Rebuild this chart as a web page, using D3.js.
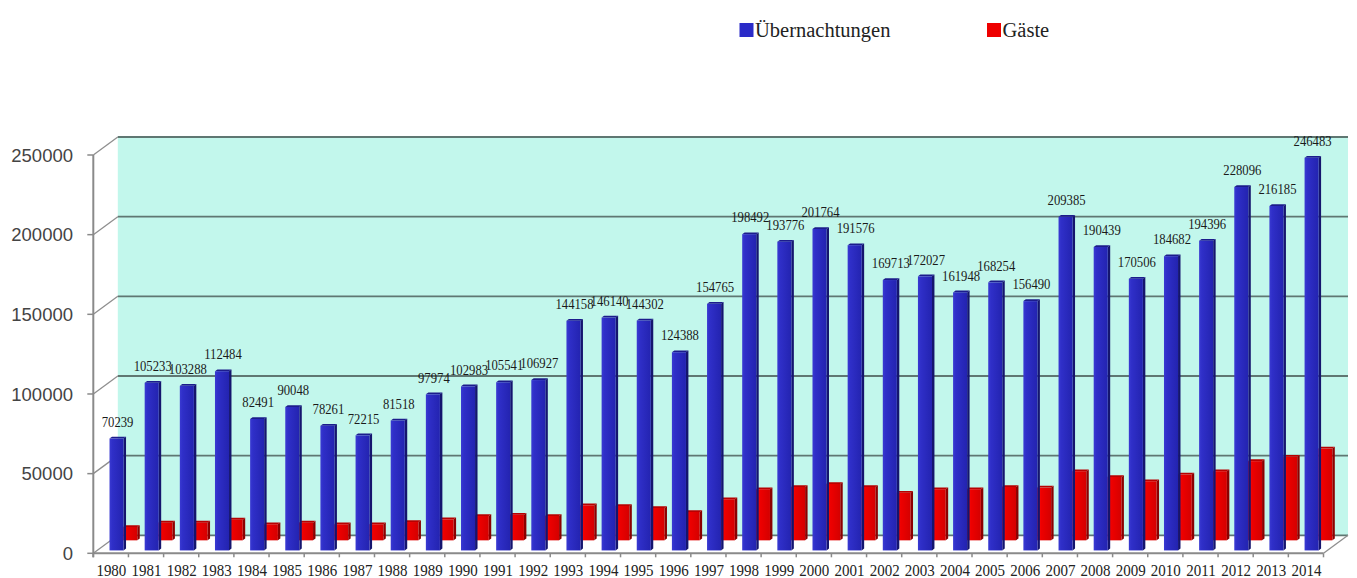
<!DOCTYPE html>
<html>
<head>
<meta charset="utf-8">
<script src="https://cdn.jsdelivr.net/npm/d3@7"></script>
<style>
  html, body { margin: 0; padding: 0; background: #ffffff; }
  svg { display: block; }
</style>
</head>
<body>
<svg id="chart" width="1357" height="578"></svg>
<script>
// ---------------- data ----------------
const years = ["1980","1981","1982","1983","1984","1985","1986","1987","1988","1989",
  "1990","1991","1992","1993","1994","1995","1996","1997","1998","1999",
  "2000","2001","2002","2003","2004","2005","2006","2007","2008","2009",
  "2010","2011","2012","2013","2014"];
const uebernachtungen = [70239,105233,103288,112484,82491,90048,78261,72215,81518,97974,
  102983,105541,106927,144158,146140,144302,124388,154765,198492,193776,
  201764,191576,169713,172027,161948,168254,156490,209385,190439,170506,
  184682,194396,228096,216185,246483];
const gaeste = [8400,11100,11100,13000,10100,11100,10100,10100,11500,13200,
  15300,16100,15300,22000,21600,20300,17800,25800,32100,33500,
  35400,33500,29900,32100,32100,33500,33100,43400,39800,37100,
  41300,43400,49700,52400,57600];
const yTicks = [0,50000,100000,150000,200000,250000];
const seriesNames = ["Übernachtungen","Gäste"];

// ---------------- layout ----------------
const svg = d3.select("#chart");
const X0 = 93.3, X1 = 1323.5;
const DX = 24.5, DY = -18;      // full depth offset (oblique projection)
const x = d3.scaleBand().domain(years).range([X0, X1]).paddingInner(0).paddingOuter(0);
const y = d3.scaleLinear().domain([0, 250000]).range([553.3, 155]);
const bw = x.bandwidth();
const inset = bw * 0.35, barW = bw * 0.4;

const defs = svg.append("defs");
function grad(id, stops) {
  const g = defs.append("linearGradient").attr("id", id).attr("x1", "0").attr("x2", "1").attr("y1", "0").attr("y2", "0");
  stops.forEach(s => g.append("stop").attr("offset", s[0]).attr("stop-color", s[1]));
}
grad("blueFront", [["0%", "#3a3ad2"], ["20%", "#2f2fc8"], ["100%", "#2323b0"]]);
grad("redFront", [["0%", "#ff1010"], ["30%", "#ee0000"], ["100%", "#d40000"]]);

const P = (px, py, z) => [px + z * DX, py + z * DY];

// back wall
const wallG = svg.append("g");
wallG.append("rect")
  .attr("x", X0 + DX).attr("y", y(250000) + DY)
  .attr("width", X1 - X0).attr("height", y(0) - y(250000))
  .attr("fill", "#c2f7ec");

// back-wall gridlines
wallG.selectAll("line.grid").data(yTicks).enter().append("line")
  .attr("x1", X0 + DX).attr("x2", X1 + DX)
  .attr("y1", d => y(d) + DY).attr("y2", d => y(d) + DY)
  .attr("stroke", "#5f7772").attr("stroke-width", 1.8);

// side-wall diagonals
wallG.selectAll("line.side").data(yTicks).enter().append("line")
  .attr("x1", X0).attr("y1", d => y(d))
  .attr("x2", X0 + DX).attr("y2", d => y(d) + DY)
  .attr("stroke", "#8e8e8e").attr("stroke-width", 1.3);

// floor right diagonal
wallG.append("line")
  .attr("x1", X1).attr("y1", y(0)).attr("x2", X1 + DX).attr("y2", y(0) + DY)
  .attr("stroke", "#8e8e8e").attr("stroke-width", 1.3);

// ---------------- bars ----------------
function drawBars(values, z0, z1, cols) {
  const g = svg.append("g");
  years.forEach((yr, i) => {
    const v = values[i];
    const bx = x(yr) + inset;
    const yt = y(v), yb = y(0);
    const ft = P(bx, yt, z0), fr = P(bx + barW, yt, z0), frb = P(bx + barW, yb, z0);
    const bt = P(bx, yt, z1), br = P(bx + barW, yt, z1), brb = P(bx + barW, yb, z1);
    // side face
    g.append("polygon")
      .attr("points", [fr, br, brb, frb].map(p => p.join(",")).join(" "))
      .attr("fill", cols.side);
    // top face
    g.append("polygon")
      .attr("points", [ft, fr, br, bt].map(p => p.join(",")).join(" "))
      .attr("fill", cols.top);
    // front face
    g.append("rect")
      .attr("x", ft[0]).attr("y", ft[1])
      .attr("width", barW).attr("height", yb - yt)
      .attr("fill", cols.front);
  });
}
drawBars(gaeste, 0.72, 0.82, { front: "url(#redFront)", side: "#8c0000", top: "#b80000" });
drawBars(uebernachtungen, 0.16, 0.26, { front: "url(#blueFront)", side: "#15156e", top: "#1c1c8c" });

// ---------------- axes ----------------
const axG = svg.append("g");
axG.append("line")
  .attr("x1", X0).attr("x2", X0).attr("y1", y(250000)).attr("y2", y(0) + 4)
  .attr("stroke", "#8a8a8a").attr("stroke-width", 2);
axG.append("line")
  .attr("x1", X0).attr("x2", X1).attr("y1", y(0)).attr("y2", y(0))
  .attr("stroke", "#8a8a8a").attr("stroke-width", 2);
axG.selectAll("line.yt").data(yTicks).enter().append("line")
  .attr("x1", X0 - 6).attr("x2", X0).attr("y1", d => y(d)).attr("y2", d => y(d))
  .attr("stroke", "#8a8a8a").attr("stroke-width", 1.5);
const bounds = years.map(yr => x(yr)).concat([X1]);
axG.selectAll("line.xt").data(bounds).enter().append("line")
  .attr("x1", d => d).attr("x2", d => d).attr("y1", y(0)).attr("y2", y(0) + 4)
  .attr("stroke", "#8a8a8a").attr("stroke-width", 1.5);

axG.selectAll("text.yl").data(yTicks).enter().append("text")
  .attr("x", 73).attr("y", d => y(d))
  .attr("dy", "0.36em")
  .attr("text-anchor", "end")
  .attr("font-family", "'Liberation Sans', Arial, sans-serif")
  .attr("font-size", 18.5)
  .attr("fill", "#444")
  .text(d => d);

axG.selectAll("text.xl").data(years).enter().append("text")
  .attr("transform", d => `translate(${x(d) + bw / 2 + 0.5},576) scale(1,1.12)`)
  .attr("text-anchor", "middle")
  .attr("font-family", "'Liberation Serif', 'Times New Roman', serif")
  .attr("font-size", 15)
  .attr("fill", "#222")
  .text(d => d);

// ---------------- data labels ----------------
svg.append("g").selectAll("text").data(years).enter().append("text")
  .attr("transform", (d, i) => {
    const cx = x(d) + inset + barW / 2 + 0.16 * DX + 1;
    const top = y(uebernachtungen[i]) + 0.26 * DY;
    return `translate(${cx},${top - 10}) scale(1,1.15)`;
  })
  .attr("text-anchor", "middle")
  .attr("font-family", "'Liberation Serif', 'Times New Roman', serif")
  .attr("font-size", 12.7)
  .attr("fill", "#1a1a1a")
  .text((d, i) => uebernachtungen[i]);

// ---------------- legend ----------------
const legend = svg.append("g");
const legItems = [
  { name: seriesNames[0], color: "#2b2bc8", x: 739.5 },
  { name: seriesNames[1], color: "#ee0000", x: 987 }
];
legItems.forEach(it => {
  legend.append("rect").attr("x", it.x).attr("y", 23).attr("width", 14).attr("height", 14).attr("fill", it.color);
  legend.append("text")
    .attr("x", it.x + 15.5).attr("y", 36.5)
    .attr("font-family", "'Liberation Serif', 'Times New Roman', serif")
    .attr("font-size", 20.5)
    .attr("fill", "#222")
    .text(it.name);
});
</script>
</body>
</html>
